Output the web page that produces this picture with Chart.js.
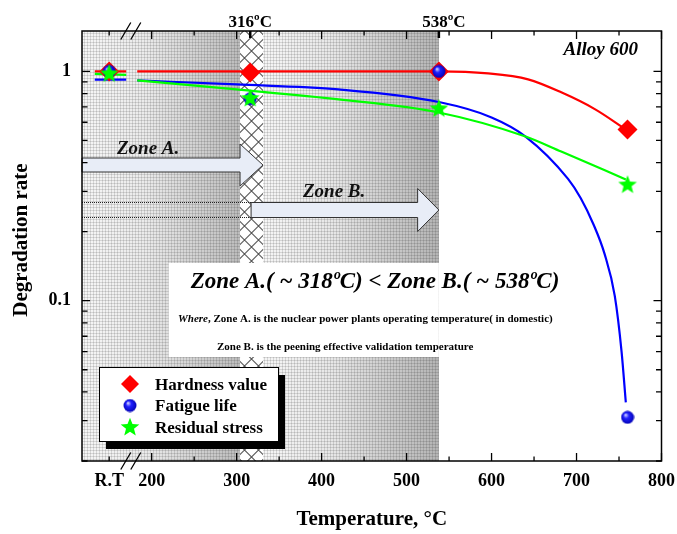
<!DOCTYPE html>
<html>
<head>
<meta charset="utf-8">
<script src="https://cdn.jsdelivr.net/npm/chart.js@4.4.0/dist/chart.umd.min.js"></script>
<style>
  html, body { margin: 0; padding: 0; background: #fff; }
</style>
</head>
<body>
<canvas id="chart" width="677" height="534"></canvas>
<script>
// measured points (R.T plotted at 150 on the broken axis)
const RT = 150
const temps = [RT, 316, 538, 760]
const hardness = [1.0, 0.99, 1.0, 0.558]
const fatigue = [1.0, 0.76, 1.0, 0.031]
const residual = [0.98, 0.765, 0.69, 0.321]

// fitted trend lines, null = gap at the axis break
const hardnessFitX = [133, 170, 176, 183, 300, 420, 538, 596, 643, 682, 722, 758]
const hardnessFitY = [1.0, 1.0, null, 1.0, 1.0, 1.0, 1.0, 0.98, 0.923, 0.81, 0.683, 0.558]
const fatigueFitX = [133, 170, 176, 183, 300, 420, 538, 600, 640, 690, 705, 720, 733, 745, 753, 758]
const fatigueFitY = [0.92, 0.92, null, 0.913, 0.877, 0.834, 0.735, 0.63, 0.52, 0.34, 0.28, 0.215, 0.16, 0.105, 0.06, 0.036]
const residualFitX = [133, 170, 176, 183, 300, 420, 538, 640, 682, 758]
const residualFitY = [0.975, 0.965, null, 0.913, 0.834, 0.755, 0.662, 0.52, 0.447, 0.338]

const xTicks = [150, 200, 300, 400, 500, 600, 700, 800]
const yTicks = [0.1, 1]

const SERIF = "'Liberation Serif', 'Times New Roman', serif"
const zip = (xs, ys) => xs.map((x, i) => ({ x: x, y: ys[i] }))

// marker images
function starImage(color) {
  const c = document.createElement('canvas')
  c.width = 20; c.height = 20
  const g = c.getContext('2d')
  g.beginPath()
  for (let i = 0; i < 10; i++) {
    const r = i % 2 ? 4.2 : 9.8
    const a = -Math.PI / 2 + i * Math.PI / 5
    g.lineTo(10 + r * Math.cos(a), 10.5 + r * Math.sin(a))
  }
  g.closePath()
  g.fillStyle = color
  g.fill()
  return c
}
function sphereImage() {
  const c = document.createElement('canvas')
  c.width = 14; c.height = 14
  const g = c.getContext('2d')
  const grad = g.createRadialGradient(5, 4.5, 0.5, 7, 7, 7)
  grad.addColorStop(0, '#c8c8ff')
  grad.addColorStop(0.35, '#2020ff')
  grad.addColorStop(1, '#0000b0')
  g.beginPath(); g.arc(7, 7, 6.5, 0, Math.PI * 2)
  g.fillStyle = grad; g.fill()
  return c
}
const star = starImage('#00ff00')
const sphere = sphereImage()

function dotPattern(ctx) {
  const c = document.createElement('canvas')
  c.width = 3; c.height = 3
  const g = c.getContext('2d')
  g.fillStyle = 'rgba(0,0,0,0.12)'
  g.fillRect(0, 0, 3, 1)
  g.fillRect(0, 0, 1, 3)
  return ctx.createPattern(c, 'repeat')
}

const decor = {
  id: 'decor',
  beforeDatasetsDraw(chart) {
    const { ctx, chartArea: a, scales: { x } } = chart
    const h1 = x.getPixelForValue(304), h2 = x.getPixelForValue(331), z2 = x.getPixelForValue(538)
    ctx.save()
    let g = ctx.createLinearGradient(a.left, 0, h1, 0)
    g.addColorStop(0, '#f6f6f6'); g.addColorStop(0.4, '#eaeaea'); g.addColorStop(1, '#bcbcbc')
    ctx.fillStyle = g
    ctx.fillRect(a.left, a.top, h1 - a.left, a.height)
    g = ctx.createLinearGradient(h2, 0, z2, 0)
    g.addColorStop(0, '#f6f6f6'); g.addColorStop(0.4, '#e6e6e6'); g.addColorStop(1, '#b4b4b4')
    ctx.fillStyle = g
    ctx.fillRect(h2, a.top, z2 - h2, a.height)
    ctx.fillStyle = dotPattern(ctx)
    ctx.fillRect(a.left, a.top, z2 - a.left, a.height)

    // cross-hatched band around 316 C
    ctx.save()
    ctx.fillStyle = '#fff'
    ctx.fillRect(h1, a.top, h2 - h1, a.height)
    ctx.beginPath(); ctx.rect(h1, a.top, h2 - h1, a.height); ctx.clip()
    ctx.strokeStyle = '#555'; ctx.lineWidth = 1.1
    const cx = (h1 + h2) / 2
    ctx.beginPath()
    for (let k = -a.height - 40; k < a.height + 40; k += 14) {
      ctx.moveTo(cx - 30, a.top + k - 30); ctx.lineTo(cx + 30, a.top + k + 30)
      ctx.moveTo(cx - 30, a.top + k + 30); ctx.lineTo(cx + 30, a.top + k - 30)
    }
    ctx.stroke()
    ctx.restore()

    // zone arrows
    const arrow = (x0, x1, xt, yc, bh, hh) => {
      ctx.beginPath()
      ctx.moveTo(x0, yc - bh / 2); ctx.lineTo(x1, yc - bh / 2); ctx.lineTo(x1, yc - hh / 2)
      ctx.lineTo(xt, yc); ctx.lineTo(x1, yc + hh / 2); ctx.lineTo(x1, yc + bh / 2)
      ctx.lineTo(x0, yc + bh / 2); ctx.closePath()
      ctx.fillStyle = '#e8edf7'; ctx.fill()
      ctx.strokeStyle = '#333'; ctx.lineWidth = 1; ctx.stroke()
    }
    arrow(a.left, h1, h2, a.top + 134, 14, 42)
    const bx0 = x.getPixelForValue(317)
    ctx.save()
    ctx.setLineDash([1, 1]); ctx.strokeStyle = '#222'
    ctx.beginPath()
    ctx.moveTo(a.left, a.top + 171.5); ctx.lineTo(bx0, a.top + 171.5)
    ctx.moveTo(a.left, a.top + 186.5); ctx.lineTo(bx0, a.top + 186.5)
    ctx.stroke()
    ctx.restore()
    arrow(bx0, x.getPixelForValue(513), z2, a.top + 179, 15, 43)

    ctx.fillStyle = '#111'
    ctx.font = 'bold italic 19px ' + SERIF
    ctx.textAlign = 'left'; ctx.textBaseline = 'alphabetic'
    ctx.fillText('Zone A.', 117, 154)
    ctx.fillText('Zone B.', 303, 197)

    // note box
    const nx = x.getPixelForValue(220)
    ctx.fillStyle = '#fff'
    ctx.fillRect(nx, 263, z2 - nx, 94)
    ctx.fillStyle = '#000'
    ctx.font = 'bold italic 23px ' + SERIF
    ctx.textAlign = 'center'
    ctx.fillText('Zone A.( ~ 318ºC) < Zone B.( ~ 538ºC)', 375, 288)
    ctx.textAlign = 'left'
    ctx.font = 'bold italic 11px ' + SERIF
    ctx.fillText('Where', 178, 322)
    const w = ctx.measureText('Where').width
    ctx.font = 'bold 11px ' + SERIF
    ctx.fillText(', Zone A. is the nuclear power plants operating temperature( in domestic)', 178 + w, 322)
    ctx.fillText('Zone B. is the peening effective validation temperature', 217, 350)
    ctx.restore()
  },
  afterDraw(chart) {
    const { ctx, chartArea: a, scales: { x, y } } = chart
    ctx.save()
    ctx.strokeStyle = '#000'
    ctx.lineWidth = 1.5
    ctx.strokeRect(a.left, a.top, a.right - a.left, a.bottom - a.top)

    // inward ticks on all four sides
    ctx.lineWidth = 1.3
    ctx.beginPath()
    const xt = (v, len) => {
      const p = x.getPixelForValue(v)
      ctx.moveTo(p, a.bottom); ctx.lineTo(p, a.bottom - len)
      ctx.moveTo(p, a.top); ctx.lineTo(p, a.top + len)
    }
    for (let v = 200; v <= 800; v += 100) xt(v, 8)
    for (let v = 150; v < 800; v += 100) xt(v, 4.5)
    const yt = (v, len) => {
      const p = y.getPixelForValue(v)
      ctx.moveTo(a.left, p); ctx.lineTo(a.left + len, p)
      ctx.moveTo(a.right, p); ctx.lineTo(a.right - len, p)
    }
    yTicks.forEach(v => yt(v, 8))
    for (let d = 0.01; d < 1; d *= 10) {
      for (let m = 2; m <= 9; m++) {
        const v = m * d
        if (v >= 0.02 && v <= 1.5) yt(v, 5.5)
      }
    }
    ctx.stroke()

    // axis break marks
    const bc = x.getPixelForValue(176)
    ctx.lineWidth = 1.3
    ctx.beginPath()
    ;[a.top, a.bottom].forEach(yy => {
      ctx.moveTo(bc - 10.5, yy + 8.5); ctx.lineTo(bc - 0.5, yy - 8.5)
      ctx.moveTo(bc - 0.5, yy + 8.5); ctx.lineTo(bc + 9.5, yy - 8.5)
    })
    ctx.stroke()

    // reference temperatures on top
    ctx.lineWidth = 2.5
    ctx.beginPath()
    ;[316, 538].forEach(v => {
      const p = x.getPixelForValue(v)
      ctx.moveTo(p, a.top); ctx.lineTo(p, a.top + 7)
    })
    ctx.stroke()
    ctx.fillStyle = '#000'
    ctx.font = 'bold 17px ' + SERIF
    ctx.textAlign = 'center'
    ctx.fillText('316ºC', x.getPixelForValue(316), 27)
    ctx.fillText('538ºC', x.getPixelForValue(538) + 5, 27)

    ctx.font = 'bold italic 19px ' + SERIF
    ctx.textAlign = 'right'
    ctx.fillText('Alloy 600', 638, 55)

    // y axis title
    ctx.save()
    ctx.translate(22, 240)
    ctx.rotate(-Math.PI / 2)
    ctx.font = 'bold 21px ' + SERIF
    ctx.textAlign = 'center'
    ctx.textBaseline = 'middle'
    ctx.fillText('Degradation rate', 0, 0)
    ctx.restore()

    // legend box with drop shadow
    const bx = 99, by = 367, bw = 179, bh = 74
    ctx.fillStyle = '#000'
    ctx.fillRect(bx + 7, by + 8, bw, bh)
    ctx.fillStyle = '#fff'
    ctx.fillRect(bx, by, bw, bh)
    ctx.lineWidth = 1
    ctx.strokeStyle = '#000'
    ctx.strokeRect(bx + 0.5, by + 0.5, bw, bh)
    const items = chart.data.datasets.filter(d => d.legendIndex !== undefined)
      .sort((p, q) => p.legendIndex - q.legendIndex)
    ctx.font = 'bold 17px ' + SERIF
    ctx.textAlign = 'left'
    items.forEach((d, i) => {
      const cy = 384 + i * 21.5
      if (d.pointStyle === 'rectRot') {
        ctx.beginPath()
        ctx.moveTo(130 - 9, cy); ctx.lineTo(130, cy - 9); ctx.lineTo(130 + 9, cy); ctx.lineTo(130, cy + 9)
        ctx.closePath()
        ctx.fillStyle = d.pointBackgroundColor; ctx.fill()
      } else {
        const img = d.pointStyle
        ctx.drawImage(img, 130 - img.width / 2, cy - img.height / 2)
      }
      ctx.fillStyle = '#000'
      ctx.fillText(d.label, 155, cy + 5.5)
    })
    ctx.restore()
  }
}

const lineStyle = (color) => ({
  type: 'line', showLine: true, borderColor: color, borderWidth: 2.2,
  pointRadius: 0, cubicInterpolationMode: 'monotone', spanGaps: false, fill: false
})

new Chart(document.getElementById('chart'), {
  type: 'line',
  data: {
    datasets: [
      { label: 'Residual stress', legendIndex: 2, order: 1, data: zip(temps, residual), showLine: false,
        pointStyle: star, pointRadius: 9, pointBackgroundColor: '#00ff00' },
      { label: 'Fatigue life', legendIndex: 1, order: 2, data: zip(temps, fatigue), showLine: false,
        pointStyle: sphere, pointRadius: 7, pointBackgroundColor: '#0000ff' },
      { label: 'Hardness value', legendIndex: 0, order: 3, data: zip(temps, hardness), showLine: false,
        pointStyle: 'rectRot', pointRadius: 10, pointBackgroundColor: '#ff0000', pointBorderWidth: 0, pointBorderColor: '#ff0000' },
      Object.assign({ label: 'Residual fit', order: 4, data: zip(residualFitX, residualFitY) }, lineStyle('#00ff00')),
      Object.assign({ label: 'Fatigue fit', order: 5, data: zip(fatigueFitX, fatigueFitY) }, lineStyle('#0000ff')),
      Object.assign({ label: 'Hardness fit', order: 6, data: zip(hardnessFitX, hardnessFitY) }, lineStyle('#ff0000'))
    ]
  },
  options: {
    responsive: false,
    animation: false,
    devicePixelRatio: 1,
    layout: { padding: { top: 31, right: 2, left: 0, bottom: 0 } },
    plugins: { legend: { display: false }, tooltip: { enabled: false } },
    events: [],
    scales: {
      x: {
        type: 'linear', min: 118, max: 800,
        grid: { display: false }, border: { display: false },
        afterFit: (s) => { s.height = 73 },
        afterBuildTicks: (s) => { s.ticks = xTicks.map(v => ({ value: v })) },
        ticks: {
          autoSkip: false, maxRotation: 0, padding: 2, color: '#000',
          font: { family: SERIF, size: 18, weight: 'bold' },
          callback: (v) => v === RT ? 'R.T' : String(v)
        },
        title: {
          display: true, text: 'Temperature, °C', color: '#000',
          font: { family: SERIF, size: 21, weight: 'bold' },
          padding: { top: 0, bottom: 2 }
        }
      },
      y: {
        type: 'logarithmic', min: 0.02, max: 1.5,
        grid: { display: false }, border: { display: false },
        afterFit: (s) => { s.width = 82 },
        afterBuildTicks: (s) => { s.ticks = yTicks.map(v => ({ value: v })) },
        ticks: {
          padding: 3, color: '#000',
          font: { family: SERIF, size: 18, weight: 'bold' },
          callback: (v) => v === 1 ? '1' : '0.1'
        }
      }
    }
  },
  plugins: [decor]
})
</script>
</body>
</html>
